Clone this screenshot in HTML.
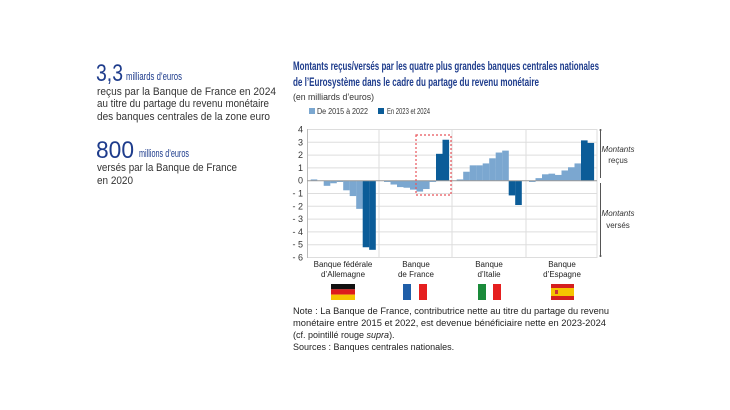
<!DOCTYPE html>
<html><head><meta charset="utf-8"><style>
body{margin:0;background:#fff;}
svg{display:block;font-family:"Liberation Sans",sans-serif;}
</style></head><body>
<svg id="s" width="730" height="410" viewBox="0 0 730 410" xmlns="http://www.w3.org/2000/svg">
<rect width="730" height="410" fill="#fff"/>
<!-- left text -->
<text x="96" y="81" font-size="24" fill="#1e3c8c" textLength="27" lengthAdjust="spacingAndGlyphs">3,3</text>
<text x="126" y="80" font-size="11" fill="#1e3c8c" textLength="56" lengthAdjust="spacingAndGlyphs">milliards d’euros</text>
<text x="97" y="95" font-size="11" fill="#333" textLength="179" lengthAdjust="spacingAndGlyphs">reçus par la Banque de France en 2024</text>
<text x="97" y="107" font-size="11" fill="#333" textLength="172" lengthAdjust="spacingAndGlyphs">au titre du partage du revenu monétaire</text>
<text x="97" y="120" font-size="11" fill="#333" textLength="173" lengthAdjust="spacingAndGlyphs">des banques centrales de la zone euro</text>
<text x="96" y="158" font-size="24" fill="#1e3c8c" textLength="38" lengthAdjust="spacingAndGlyphs">800</text>
<text x="139" y="157" font-size="11" fill="#1e3c8c" textLength="50" lengthAdjust="spacingAndGlyphs">millions d’euros</text>
<text x="97" y="171" font-size="11" fill="#333" textLength="140" lengthAdjust="spacingAndGlyphs">versés par la Banque de France</text>
<text x="97" y="184" font-size="11" fill="#333" textLength="36" lengthAdjust="spacingAndGlyphs">en 2020</text>
<!-- title -->
<text x="293" y="70" font-size="12" font-weight="bold" fill="#1e3c8c" textLength="306" lengthAdjust="spacingAndGlyphs">Montants reçus/versés par les quatre plus grandes banques centrales nationales</text>
<text x="293" y="86" font-size="12" font-weight="bold" fill="#1e3c8c" textLength="246" lengthAdjust="spacingAndGlyphs">de l’Eurosystème dans le cadre du partage du revenu monétaire</text>
<text x="293" y="100" font-size="9" fill="#333" textLength="81" lengthAdjust="spacingAndGlyphs">(en milliards d’euros)</text>
<rect x="309" y="108" width="6" height="6" fill="#7ba7d0"/>
<text x="317" y="114" font-size="8" fill="#333" textLength="51" lengthAdjust="spacingAndGlyphs">De 2015 à 2022</text>
<rect x="378" y="108" width="6" height="6" fill="#0b5c98"/>
<text x="387" y="114" font-size="8" fill="#333" textLength="43" lengthAdjust="spacingAndGlyphs">En 2023 et 2024</text>
<g id="grid" stroke="#ddd" stroke-width="1"></g>
<g id="bars"></g>
<line x1="307.5" y1="129" x2="307.5" y2="258" stroke="#bbb"/>
<line x1="307" y1="180.7" x2="597" y2="180.7" stroke="#999"/>
<g id="ticks" font-size="9" fill="#333" text-anchor="end"></g>
<rect x="416" y="135" width="35" height="60" fill="none" stroke="#e8545a" stroke-width="1.2" stroke-dasharray="2,2"/>
<!-- right arrows -->
<line x1="600.5" y1="130" x2="600.5" y2="178" stroke="#555"/>
<line x1="600.5" y1="183" x2="600.5" y2="256" stroke="#555"/>
<circle cx="600.5" cy="130" r="1" fill="#555"/><circle cx="600.5" cy="256" r="1" fill="#555"/>
<text x="618" y="152" font-size="8" fill="#333" font-style="italic" text-anchor="middle">Montants</text>
<text x="618" y="163" font-size="8" fill="#333" text-anchor="middle">reçus</text>
<text x="618" y="216" font-size="8" fill="#333" font-style="italic" text-anchor="middle">Montants</text>
<text x="618" y="228" font-size="8" fill="#333" text-anchor="middle">versés</text>
<!-- category labels -->
<g font-size="8" fill="#222" text-anchor="middle">
<text x="343" y="267">Banque fédérale</text><text x="343" y="277">d’Allemagne</text>
<text x="416" y="267">Banque</text><text x="416" y="277">de France</text>
<text x="489" y="267">Banque</text><text x="489" y="277">d’Italie</text>
<text x="562" y="267">Banque</text><text x="562" y="277">d’Espagne</text>
</g>
<!-- flags -->
<rect x="331" y="284" width="24" height="5.3" fill="#111"/><rect x="331" y="289.3" width="24" height="5.3" fill="#dd1c1c"/><rect x="331" y="294.6" width="24" height="5.4" fill="#f5c400"/>
<rect x="403" y="284" width="8" height="16" fill="#1f5ea8"/><rect x="419" y="284" width="8" height="16" fill="#e51f1f"/>
<rect x="478" y="284" width="8" height="16" fill="#1a8a3a"/><rect x="493" y="284" width="8" height="16" fill="#e51f1f"/>
<rect x="551" y="284" width="23" height="16" fill="#d41f1f"/><rect x="551" y="288" width="23" height="8" fill="#f5c400"/><rect x="555" y="290" width="3" height="4" fill="#c33"/>
<!-- notes -->
<g font-size="9" fill="#222">
<text x="293" y="314" textLength="316" lengthAdjust="spacingAndGlyphs">Note : La Banque de France, contributrice nette au titre du partage du revenu</text>
<text x="293" y="326" textLength="313" lengthAdjust="spacingAndGlyphs">monétaire entre 2015 et 2022, est devenue bénéficiaire nette en 2023-2024</text>
<text x="293" y="338">(cf. pointillé rouge <tspan font-style="italic">supra</tspan>).</text>
<text x="293" y="350">Sources : Banques centrales nationales.</text>
</g>
</svg>
<script>
var NS="http://www.w3.org/2000/svg";
function el(p,t,a,txt){var e=document.createElementNS(NS,t);for(var k in a)e.setAttribute(k,a[k]);if(txt)e.textContent=txt;document.getElementById(p).appendChild(e);}
function y(v){return 180.7-v*12.8;}
for(var v=-6;v<=4;v++){ if(v!==0) el("grid","line",{x1:307,x2:597,y1:y(v),y2:y(v)}); el("ticks","text",{x:303,y:y(v)+3},(v<0?"- "+(-v):""+v)); }
[379,452,526,597].forEach(function(x){el("grid","line",{x1:x,x2:x,y1:129,y2:258});});
el("grid","line",{x1:307,x2:597,y1:257.5,y2:257.5});
var data=[[310.7,[0.1,0,-0.4,-0.2,-0.1,-0.75,-1.2,-2.2,-5.2,-5.4]],
[384,[-0.1,-0.3,-0.5,-0.55,-0.7,-0.85,-0.65,-0.1,2.1,3.2]],
[456.7,[0.1,0.7,1.2,1.2,1.35,1.75,2.2,2.35,-1.15,-1.9]],
[529,[-0.1,0.2,0.5,0.55,0.45,0.8,1.05,1.35,3.15,2.95]]];
data.forEach(function(g){g[1].forEach(function(v,i){var x=g[0]+i*6.5;var a=y(Math.max(v,0)),b=y(Math.min(v,0));
el("bars","rect",{x:x,y:a,width:6.6,height:Math.max(b-a,0.01),fill:i<8?"#7ba7d0":"#0b5c98"});});});
</script>
</body></html>
